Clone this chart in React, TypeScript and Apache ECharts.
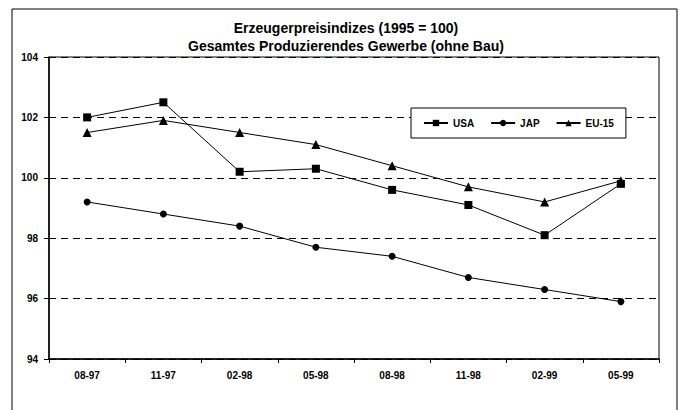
import React, { useEffect, useRef } from "react";
import * as echarts from "echarts";

const categories = ["08-97", "11-97", "02-98", "05-98", "08-98", "11-98", "02-99", "05-99"];
const usa = [102.0, 102.5, 100.2, 100.3, 99.6, 99.1, 98.1, 99.8];
const jap = [99.2, 98.8, 98.4, 97.7, 97.4, 96.7, 96.3, 95.9];
const eu15 = [101.5, 101.9, 101.5, 101.1, 100.4, 99.7, 99.2, 99.9];
const titleLines = ["Erzeugerpreisindizes (1995 = 100)", "Gesamtes Produzierendes Gewerbe (ohne Bau)"];

const FONT = "'Liberation Sans', Arial, sans-serif";

export default function App() {
  const ref = useRef<HTMLDivElement>(null);
  useEffect(() => {
    if (!ref.current) return;
    const chart = echarts.init(ref.current, null, { renderer: "svg" });
    const mkSeries = (name: string, data: number[], symbol: string, size: number) => ({
      name,
      type: "line",
      data,
      symbol,
      symbolSize: size,
      showSymbol: true,
      itemStyle: { color: "#000" },
      lineStyle: { color: "#000", width: 1 },
      emphasis: { disabled: true },
    });
    chart.setOption({
      animation: false,
      backgroundColor: "#fff",
      textStyle: { fontFamily: FONT },
      title: {
        text: titleLines.join("\n"),
        left: 341,
        textAlign: "center",
        top: 14,
        textStyle: { fontFamily: FONT, fontSize: 14, fontWeight: "bold", color: "#000", lineHeight: 18 },
      },
      graphic: [
        {
          type: "rect",
          shape: { x: 12, y: 9, width: 665, height: 420 },
          style: { fill: "none", stroke: "#000", lineWidth: 1 },
          silent: true,
        },
      ],
      legend: {
        left: 411,
        top: 108,
        orient: "horizontal",
        backgroundColor: "#fff",
        borderColor: "#000",
        borderWidth: 1,
        padding: [10, 12, 10, 12],
        itemWidth: 24,
        itemHeight: 8,
        itemGap: 16,
        textStyle: { fontFamily: FONT, fontSize: 10, fontWeight: "bold", color: "#000" },
        data: ["USA", "JAP", "EU-15"],
      },
      grid: {
        left: 49,
        right: 22,
        top: 57,
        bottom: 51,
        show: true,
        borderColor: "#000",
        borderWidth: 1,
        containLabel: false,
      },
      xAxis: {
        type: "category",
        data: categories,
        boundaryGap: true,
        axisLine: { lineStyle: { color: "#000", width: 1.5 } },
        axisTick: { show: true, length: 4, lineStyle: { color: "#000" } },
        axisLabel: { color: "#000", fontSize: 10, fontWeight: "bold", margin: 11, fontFamily: FONT },
        splitLine: { show: false },
      },
      yAxis: {
        type: "value",
        min: 94,
        max: 104,
        interval: 2,
        axisLine: { show: true, lineStyle: { color: "#000", width: 1.5 } },
        axisTick: { show: true, length: 5, lineStyle: { color: "#000" } },
        axisLabel: { color: "#000", fontSize: 10, fontWeight: "bold", margin: 11, fontFamily: FONT },
        splitLine: { show: true, lineStyle: { color: "#000", type: [7, 5], width: 1 } },
      },
      series: [
        mkSeries("USA", usa, "rect", 8),
        mkSeries("JAP", jap, "circle", 7),
        mkSeries("EU-15", eu15, "triangle", 9),
      ],
    });
    return () => chart.dispose();
  }, []);
  return (
    <div
      ref={ref}
      style={{ position: "absolute", left: 0, top: 0, width: 681, height: 410 }}
    />
  );
}
